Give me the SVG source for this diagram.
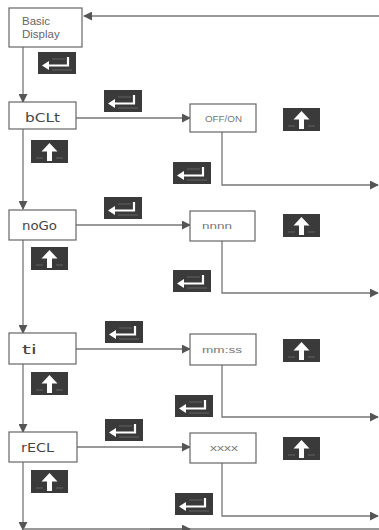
<svg xmlns="http://www.w3.org/2000/svg" xmlns:xlink="http://www.w3.org/1999/xlink" width="379" height="530" viewBox="0 0 379 530">
<style>
.box{fill:#fff;stroke:#666;stroke-width:1.2}
.ln{fill:none;stroke:#777;stroke-width:1.3}
.lbl{font-family:"Liberation Sans",Arial,sans-serif;font-size:11.5px;fill:#666}
.seg{font-family:"DejaVu Sans",sans-serif;font-size:12.5px;fill:#444}
.sm{font-family:"Liberation Sans",Arial,sans-serif;font-size:9.5px;fill:#777}
</style>
<defs>
<marker id="ah" viewBox="0 0 10 10" refX="9" refY="5" markerWidth="9" markerHeight="9" markerUnits="userSpaceOnUse" orient="auto">
<path d="M0,0 L10,5 L0,10 z" fill="#555"/>
</marker>
<g id="enter">
<rect x="0" y="0" width="38" height="22" fill="#3a3a3a"/>
<path d="M9,13.5 H30 V5" fill="none" stroke="#fff" stroke-width="2.2"/>
<path d="M4,13.5 L11,9 L11,18 z" fill="#fff"/>
<path d="M14,7 H27 M14,18 H34" stroke="#777" stroke-width="0.7"/>
</g>
<g id="up">
<rect x="0" y="0" width="37" height="23" fill="#3a3a3a"/>
<path d="M18.5,3 L10.5,11.5 L26.5,11.5 z" fill="#fff"/>
<rect x="16" y="11" width="5" height="10" fill="#fff"/>
<path d="M5,18 H12 M25,18 H32" stroke="#777" stroke-width="0.7"/>
</g>
</defs>
<g id="connectors">
<line class="ln" x1="379" y1="16" x2="84" y2="16" marker-end="url(#ah)"/>
<line class="ln" x1="23" y1="47" x2="23" y2="102" marker-end="url(#ah)"/>
<line class="ln" x1="23" y1="128" x2="23" y2="209" marker-end="url(#ah)"/>
<line class="ln" x1="23" y1="240" x2="23" y2="333" marker-end="url(#ah)"/>
<line class="ln" x1="23" y1="364" x2="23" y2="432" marker-end="url(#ah)"/>
<line class="ln" x1="23" y1="462" x2="23" y2="530" marker-end="url(#ah)"/>
<line class="ln" x1="23" y1="529" x2="379" y2="529"/>
<line class="ln" x1="150" y1="529" x2="190" y2="529" marker-end="url(#ah)"/>
<line class="ln" x1="76" y1="118" x2="190" y2="118" marker-end="url(#ah)"/>
<line class="ln" x1="76" y1="225" x2="190" y2="225" marker-end="url(#ah)"/>
<line class="ln" x1="76" y1="349" x2="190" y2="349" marker-end="url(#ah)"/>
<line class="ln" x1="77" y1="447" x2="190" y2="447" marker-end="url(#ah)"/>
<polyline class="ln" points="222,132 222,185 378,185" marker-end="url(#ah)"/>
<polyline class="ln" points="222,241 222,293 378,293" marker-end="url(#ah)"/>
<polyline class="ln" points="222,365 222,417 378,417" marker-end="url(#ah)"/>
<polyline class="ln" points="222,463 222,516 378,516" marker-end="url(#ah)"/>
</g>
<g id="icons">
<use xlink:href="#enter" x="38" y="52"/>
<use xlink:href="#enter" x="104" y="90"/>
<use xlink:href="#enter" x="104" y="197"/>
<use xlink:href="#enter" x="105" y="321"/>
<use xlink:href="#enter" x="105" y="419"/>
<use xlink:href="#enter" x="173" y="162"/>
<use xlink:href="#enter" x="173" y="270"/>
<use xlink:href="#enter" x="175" y="395"/>
<use xlink:href="#enter" x="175" y="493"/>
<use xlink:href="#up" x="31" y="140"/>
<use xlink:href="#up" x="31" y="247"/>
<use xlink:href="#up" x="31" y="372"/>
<use xlink:href="#up" x="31" y="470"/>
<use xlink:href="#up" x="283" y="108"/>
<use xlink:href="#up" x="283" y="214"/>
<use xlink:href="#up" x="283" y="339"/>
<use xlink:href="#up" x="283" y="437"/>
</g>
<g id="basic">
<rect class="box" x="9" y="8" width="73" height="39"/>
<text class="lbl" x="22" y="25">Basic</text>
<text class="lbl" x="22" y="38">Display</text>
</g>
<g id="bclt">
<rect class="box" x="9" y="102" width="67" height="27"/>
<text class="seg" x="25" y="122" textLength="35" lengthAdjust="spacingAndGlyphs">bCLt</text>
</g>
<g id="offon">
<rect class="box" x="190" y="104" width="66" height="28"/>
<text class="sm" x="205" y="122" textLength="37" lengthAdjust="spacingAndGlyphs">OFF/ON</text>
</g>
<g id="nogo">
<rect class="box" x="9" y="210" width="67" height="30"/>
<text class="seg" x="22" y="230" textLength="35" lengthAdjust="spacingAndGlyphs">noGo</text>
</g>
<g id="nnnn">
<rect class="box" x="190" y="211" width="65" height="30"/>
<text class="sm" x="202" y="229" textLength="30" lengthAdjust="spacingAndGlyphs">nnnn</text>
</g>
<g id="ti">
<rect class="box" x="9" y="333" width="67" height="31"/>
<text class="seg" x="22" y="354" textLength="15" lengthAdjust="spacingAndGlyphs">ti</text>
</g>
<g id="mmss">
<rect class="box" x="190" y="334" width="66" height="31"/>
<text class="sm" x="202" y="353" textLength="40" lengthAdjust="spacingAndGlyphs">mm:ss</text>
</g>
<g id="recl">
<rect class="box" x="9" y="432" width="68" height="30"/>
<text class="seg" x="21" y="452" textLength="33" lengthAdjust="spacingAndGlyphs">rECL</text>
</g>
<g id="xxxx">
<rect class="box" x="190" y="433" width="66" height="30"/>
<text class="sm" x="210" y="451" textLength="28" lengthAdjust="spacingAndGlyphs">xxxx</text>
</g>
</svg>
